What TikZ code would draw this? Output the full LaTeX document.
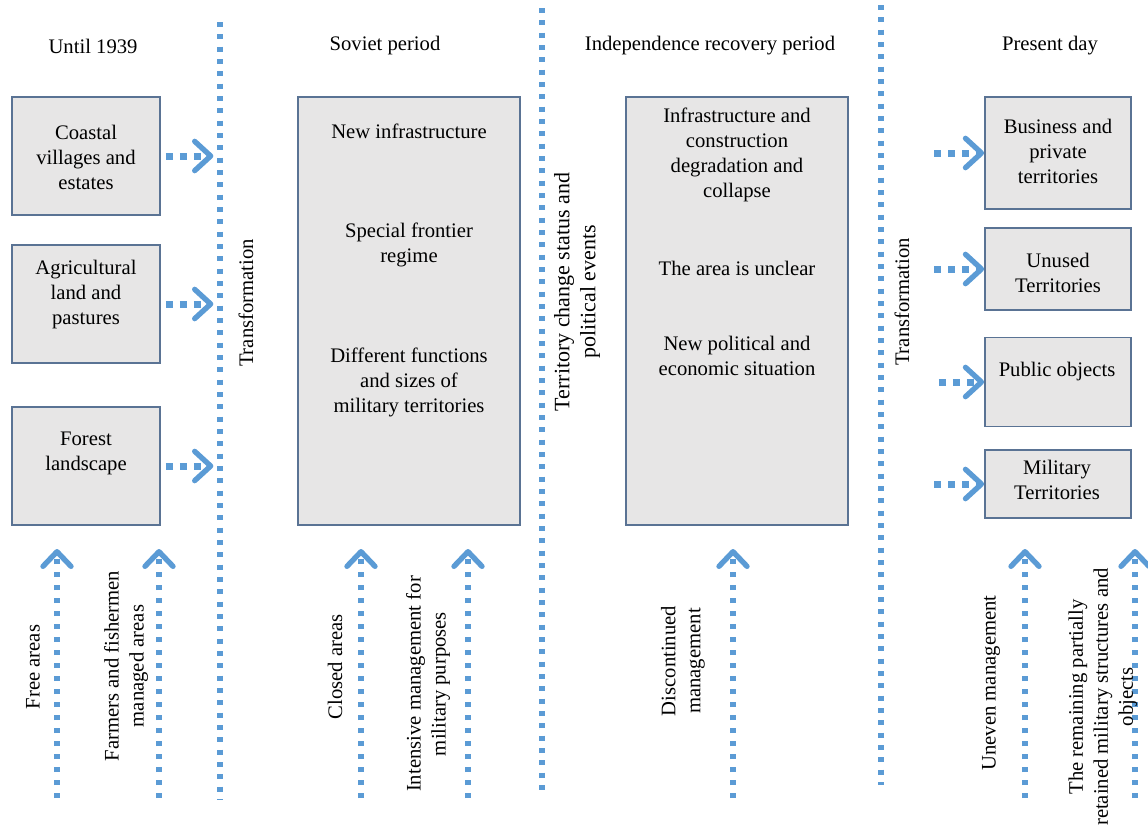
\documentclass[tikz,border=0pt]{standalone}
\usepackage{fontspec}
\setmainfont{Liberation Serif}
\usetikzlibrary{arrows.meta}

\definecolor{flowblue}{HTML}{5B9BD5}
\definecolor{boxfill}{HTML}{E7E6E6}
\definecolor{boxline}{HTML}{5A7394}

\begin{document}
\begin{tikzpicture}[x=0.75pt,y=-0.75pt,
    every node/.style={font=\fontsize{15.5}{18.75}\selectfont, align=center, inner sep=0pt},
    box/.style n args={2}{draw=boxline, fill=boxfill, line width=1.3pt,
      minimum width=#1*0.75pt, minimum height=#2*0.75pt},
    sep/.style={flowblue, line width=4.5pt, dash pattern=on 3.75pt off 5.5pt},
    flow/.style={flowblue, line width=5.25pt, dash pattern=on 5.25pt off 5.25pt,
      -{Straight Barb[length=12pt,width=22pt,line width=4pt,round]}},
    upflow/.style={flowblue, line width=4.5pt, dash pattern=on 3.75pt off 6pt,
      -{Straight Barb[length=11pt,width=21pt,line width=4pt,round]}},
    turned/.style={rotate=90}]
  \useasboundingbox (0,0) rectangle (1148,825);

  % headers
  \node (hdr1) at (93,46) {Until 1939};
  \node (hdr2) at (385,46) {Soviet period};
  \node (hdr3) at (710,46) {Independence recovery period};
  \node (hdr4) at (1050,46) {Present day};

  % separators
  \coordinate (sepA-top) at (220,22);
  \coordinate (sepA-bot) at (220,800);
  \coordinate (sepB-top) at (542,8);
  \coordinate (sepB-bot) at (542,790);
  \coordinate (sepC-top) at (881,5);
  \coordinate (sepC-bot) at (881,785);
  \draw[sep] (sepA-top) -- (sepA-bot);
  \draw[sep] (sepB-top) -- (sepB-bot);
  \draw[sep] (sepC-top) -- (sepC-bot);

  % until 1939
  \node[box={148}{118}] (coastal) at (86,156) {};
  \node (coastal-txt) at (86,157) {Coastal\\villages and\\estates};
  \node[box={148}{118}] (agri) at (86,304) {};
  \node (agri-txt) at (86,295) {Agricultural\\land and\\pastures};
  \node[box={148}{118}] (forest) at (86,466) {};
  \node (forest-txt) at (86,453) {Forest\\landscape};

  \draw[flow, shorten >=5pt] ([xshift=3.75pt]coastal.east) -- (coastal.east -| sepA-top);
  \draw[flow, shorten >=5pt] ([xshift=3.75pt]agri.east) -- (agri.east -| sepA-top);
  \draw[flow, shorten >=5pt] ([xshift=3.75pt]forest.east) -- (forest.east -| sepA-top);

  \node[turned] (transA) at (246,303) {Transformation};

  % soviet period
  \node[box={222}{428}] (soviet) at (409,311) {};
  \node (sov1) at (409,131) {New infrastructure};
  \node (sov2) at (409,245) {Special frontier\\regime};
  \node (sov3) at (409,382) {Different functions\\and sizes of\\military territories};

  \node[turned, font=\fontsize{16.5}{19.5}\selectfont] (territory) at (577,292) {Territory change status and\\political events};

  % independence recovery
  \node[box={222}{428}] (indep) at (737,311) {};
  \node (ind1) at (737,155) {Infrastructure and\\construction\\degradation and\\collapse};
  \node (ind2) at (737,268) {The area is unclear};
  \node (ind3) at (737,356) {New political and\\economic situation};

  \node[turned] (transB) at (902,302) {Transformation};

  % present day
  \node[box={146}{112}] (business) at (1058,153) {};
  \node (business-txt) at (1058,151) {Business and\\private\\territories};
  \node[box={146}{82}] (unused) at (1058,269) {};
  \node (unused-txt) at (1058,273) {Unused\\Territories};
  \node[box={146}{89}] (public) at (1058,382) {};
  \node (public-txt) at (1057,372) {Public objects};
  \node[box={146}{68}] (military) at (1058,484) {};
  \node (military-txt) at (1057,480) {Military\\Territories};

  \draw[flow] ([xshift=-37.5pt]business.west) -- (business.west);
  \draw[flow] ([xshift=-37.5pt]unused.west) -- (unused.west);
  \draw[flow] ([xshift=-34pt]public.west) -- (public.west);
  \draw[flow] ([xshift=-37.5pt]military.west) -- (military.west);

  % management arrows
  \foreach \x [count=\i] in {57,159,361,468,733,1025,1135} {
    \coordinate (low\i) at (\x,798);
    \coordinate (up\i) at (\x,549);
    \draw[upflow] (low\i) -- (up\i);
  }

  \node[turned] (free) at (33,667) {Free areas};
  \node[turned] (farmers) at (126,666) {Farmers and fishermen\\managed areas};
  \node[turned] (closed) at (335,667) {Closed areas};
  \node[turned] (intensive) at (428,684) {Intensive management for\\military purposes};
  \node[turned] (discont) at (683,661) {Discontinued\\management};
  \node[turned] (uneven) at (991,683) {Uneven management};
  \node[turned] (remaining) at (1103,697) {The remaining partially\\retained military structures and\\objects};
\end{tikzpicture}
\end{document}
